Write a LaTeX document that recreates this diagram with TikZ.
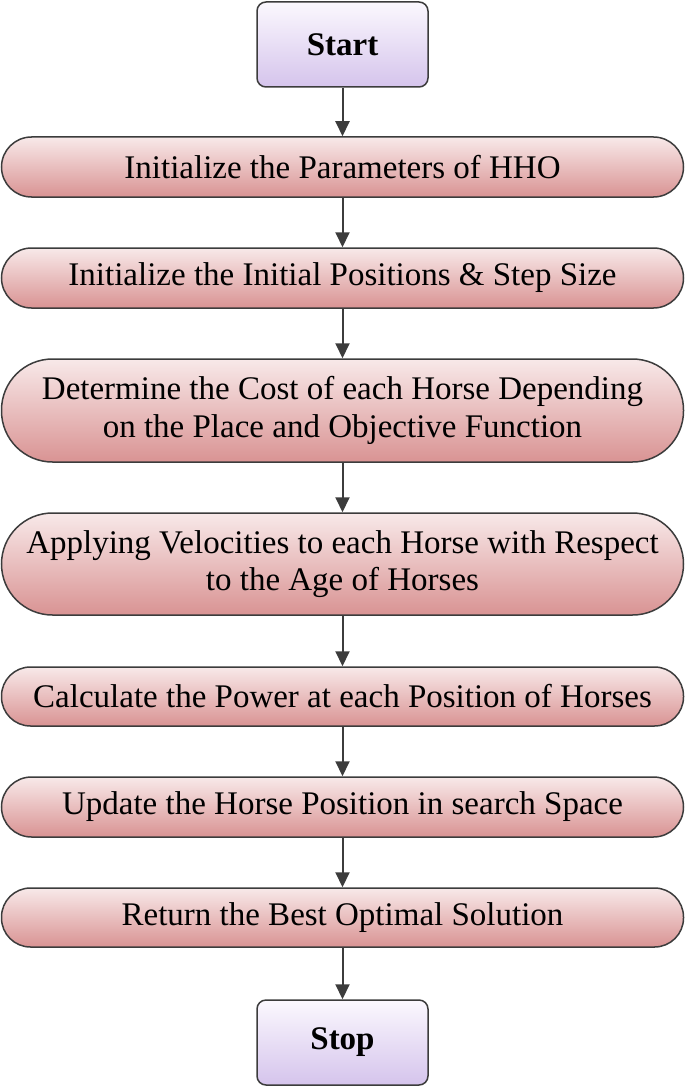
\documentclass[tikz,border=0pt]{standalone}
\usepackage{fontspec}
\setmainfont{Liberation Serif}
\usetikzlibrary{arrows.meta}
\definecolor{edgegray}{HTML}{3C3C3C}
\definecolor{pinktop}{HTML}{F8E9E9}
\definecolor{pinkbot}{HTML}{D99393}
\definecolor{lavtop}{HTML}{FBF8FE}
\definecolor{lavbot}{HTML}{D5C4EC}
\tikzset{
  procbox/.style={draw=edgegray, line width=1.5pt, top color=pinktop, bottom color=pinkbot,
    minimum width=682pt, inner sep=0pt, align=center,
    font=\fontsize{33}{37.5}\selectfont},
  termbox/.style={draw=edgegray, line width=1.5pt, top color=lavtop, bottom color=lavbot,
    minimum width=171pt, minimum height=85pt, rounded corners=9pt, inner sep=0pt,
    font=\fontsize{33}{37.5}\selectfont\bfseries},
  flow/.style={draw=edgegray, line width=2pt, -{Triangle[length=15pt,width=14pt]}}
}
\begin{document}
\begin{tikzpicture}[x=1pt,y=-1pt]
\path[use as bounding box] (0,0) rectangle (685,1086);
\node[termbox] (start) at (342.5,44.5) {Start};
\node[procbox, minimum height=60pt, rounded corners=30pt] (b1) at (342.5,167) {Initialize the Parameters of HHO};
\node[procbox, minimum height=60pt, rounded corners=30pt] (b2) at (342.5,278) {Initialize the Initial Positions \& Step Size};
\node[procbox, minimum height=103pt, rounded corners=51pt] (b3) at (342.5,410.5) {Determine the Cost of each Horse Depending\\on the Place and Objective Function};
\node[procbox, minimum height=102pt, rounded corners=51pt] (b4) at (342.5,564) {Applying Velocities to each Horse with Respect\\to the Age of Horses};
\node[procbox, minimum height=59pt, rounded corners=29pt] (b5) at (342.5,696.5) {Calculate the Power at each Position of Horses};
\node[procbox, minimum height=60pt, rounded corners=30pt] (b6) at (342.5,807) {Update the Horse Position in search Space};
\node[procbox, minimum height=59pt, rounded corners=29pt] (b7) at (342.5,917.5) {Return the Best Optimal Solution};
\node[termbox] (stop) at (342.5,1042.5) {Stop};
\draw[flow] (start) -- (b1);
\draw[flow] (b1) -- (b2);
\draw[flow] (b2) -- (b3);
\draw[flow] (b3) -- (b4);
\draw[flow] (b4) -- (b5);
\draw[flow] (b5) -- (b6);
\draw[flow] (b6) -- (b7);
\draw[flow] (b7) -- (stop);
\end{tikzpicture}
\end{document}
